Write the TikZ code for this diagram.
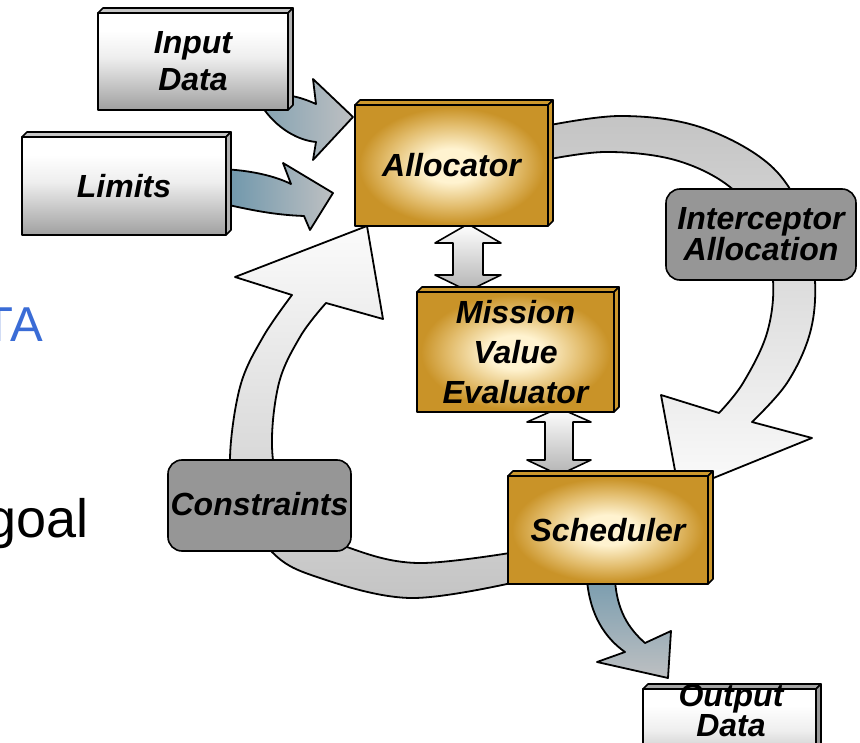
\documentclass[tikz,border=0pt]{standalone}
\usepackage{fontspec}
\setmainfont{Liberation Sans}
\usetikzlibrary{calc}

\definecolor{golddark}{RGB}{201,147,40}
\definecolor{goldmid}{RGB}{226,188,108}
\definecolor{goldlight}{RGB}{255,243,208}
\definecolor{goldtop}{RGB}{205,152,45}
\definecolor{silverdark}{RGB}{160,160,160}
\definecolor{silverlight}{RGB}{238,238,238}
\definecolor{tabgray}{RGB}{150,150,150}
\definecolor{loopgray}{RGB}{196,196,196}
\definecolor{loopwhite}{RGB}{251,251,251}
\definecolor{steelblue}{RGB}{105,148,170}
\definecolor{steelgray}{RGB}{190,192,194}
\definecolor{slideblue}{RGB}{58,108,214}

% gold slab: cream glow in the middle, darker gold towards the rim
\pgfdeclareradialshading{goldglow}{\pgfpoint{0bp}{0bp}}{color(0bp)=(goldlight); color(7bp)=(goldlight); color(17bp)=(goldmid); color(24bp)=(golddark); color(50bp)=(golddark)}
% silver slab: white at the top, grey at the bottom
\pgfdeclareverticalshading{silverfade}{100bp}{color(0bp)=(silverdark); color(25bp)=(silverdark); color(52bp)=(silverlight); color(66bp)=(white); color(75bp)=(white); color(100bp)=(white)}

\newcommand\boxfont[1]{\fontsize{32}{#1}\selectfont\bfseries\itshape}

% top and right faces of a slab node
\newcommand\slabfaces[3]{%
  \draw[rim, fill=#2] (#1.north west) -- ++(5,-5) -- ($(#1.north east)+(5,-5)$) -- (#1.north east) -- cycle;
  \draw[rim, fill=#3] (#1.north east) -- ++(5,-5) -- ($(#1.south east)+(5,-5)$) -- (#1.south east) -- cycle;}

\begin{document}
\begin{tikzpicture}[x=1pt, y=-1pt, line join=round,
  rim/.style={draw=black, line width=1.6pt},
  slab/.style={rim, shade, inner sep=0pt, outer sep=0pt, align=center},
  goldslab/.style={slab, shading=goldglow},
  silverslab/.style={slab, shading=silverfade},
  tab/.style={rim, fill=tabgray, rounded corners=14pt, inner sep=0pt, outer sep=0pt, align=center},
  band/.style={draw=black, line width=1.8pt},
  twoway/.style={rim, top color=white, bottom color=gray!60},
]
\useasboundingbox (0,0) rectangle (860,743);
\clip (0,0) rectangle (860,743);

% ---- loop: allocator -> scheduler
\shadedraw[band, top color=loopgray, bottom color=loopwhite]
  plot[smooth, tension=0.6] coordinates {(540,127) (620,116) (700,127) (770,165) (805,220) (815,280) (810,333) (787,383) (752,422)}
  -- (812,438) -- (679,492) -- (661,395) -- (719,413)
  -- plot[smooth, tension=0.6] coordinates {(719,413) (743,383) (767,333) (773,280) (760,228) (730,187) (675,160) (605,152) (540,161)}
  -- cycle;

% ---- loop: scheduler -> allocator
\shadedraw[band, top color=loopwhite, bottom color=loopgray]
  plot[smooth, tension=0.6] coordinates {(516,582) (410,598) (317,577) (272,552) (240,500) (230,460) (240,387) (263,337) (292,295)}
  -- (235,277) -- (367,226) -- (383,319) -- (326,303)
  -- plot[smooth, tension=0.6] coordinates {(326,303) (300,337) (278,387) (273,460) (295,520) (347,547) (417,563) (516,552)}
  -- cycle;

% ---- feed arrows
\shadedraw[band, left color=steelblue!70!steelgray, right color=steelgray]
  (258,100) .. controls (272,125) and (295,140) .. (316,142) -- (313,160) -- (353,117) -- (313,79)
  -- (316,104) .. controls (305,99) and (295,96) .. (285,95) -- cycle;
\shadedraw[band, left color=steelblue, right color=steelgray]
  (220,169) .. controls (250,170) and (275,176) .. (291,184) -- (283,163) -- (333,193) -- (310,230)
  -- (304,216) .. controls (275,215) and (250,210) .. (220,203) -- cycle;
\shadedraw[band, top color=steelblue!80!steelgray, bottom color=steelgray]
  (587,580) .. controls (590,615) and (605,638) .. (625,652) -- (597,662) -- (668,678) -- (671,631)
  -- (645,643) .. controls (628,628) and (617,610) .. (615,580) -- cycle;

% ---- two-way arrows
\shadedraw[twoway] (468,224) -- (501,243) -- (483,243) -- (483,275) -- (501,275) -- (468,291)
  -- (435,275) -- (453,275) -- (453,243) -- (435,243) -- cycle;
\shadedraw[twoway] (559,408) -- (591,422) -- (573,422) -- (573,460) -- (591,460) -- (559,475)
  -- (527,460) -- (545,460) -- (545,422) -- (527,422) -- cycle;

% ---- rounded grey tabs
\node[tab, minimum width=190pt, minimum height=91pt, font=\boxfont{29}] (intercept) at (761,234.5) {Interceptor\\Allocation};
\node[tab, minimum width=183pt, minimum height=91pt, font=\boxfont{37}] (constr) at (259.5,505.5) {\raisebox{3pt}{Constraints}};

% ---- silver slabs
\node[silverslab, minimum width=190pt, minimum height=97pt, font=\boxfont{37}] (input) at (193,61.5) {Input\\Data};
\slabfaces{input}{gray!45}{gray!60}
\node[silverslab, minimum width=204pt, minimum height=98pt, font=\boxfont{37}] (limits) at (124,186) {Limits};
\slabfaces{limits}{gray!45}{gray!60}
\node[silverslab, minimum width=173pt, minimum height=91pt] (output) at (729.5,734.5) {};
\slabfaces{output}{gray!70}{gray!80}
\node[font=\boxfont{30}, align=center, inner sep=0pt] (outtxt) at (731,710) {Output\\Data};

% ---- gold slabs
\node[goldslab, minimum width=193pt, minimum height=121pt, font=\boxfont{37}] (alloc) at (451.5,165.5) {Allocator};
\slabfaces{alloc}{goldtop}{goldtop}
\node[goldslab, minimum width=197pt, minimum height=120pt, font=\boxfont{40}] (mve) at (515.5,352) {Mission\\Value\\Evaluator};
\slabfaces{mve}{goldtop}{goldtop}
\node[goldslab, minimum width=200pt, minimum height=108pt, font=\boxfont{37}] (sched) at (608,530) {Scheduler};
\slabfaces{sched}{goldtop}{goldtop}

% ---- slide text
\node[anchor=base east, font=\fontsize{49}{55}\selectfont, text=slideblue, inner sep=0pt] (ta) at (43,342) {TA};
\node[anchor=base east, font=\fontsize{54}{60}\selectfont, inner sep=0pt] (goal) at (89,537) {goal};
\end{tikzpicture}
\end{document}
